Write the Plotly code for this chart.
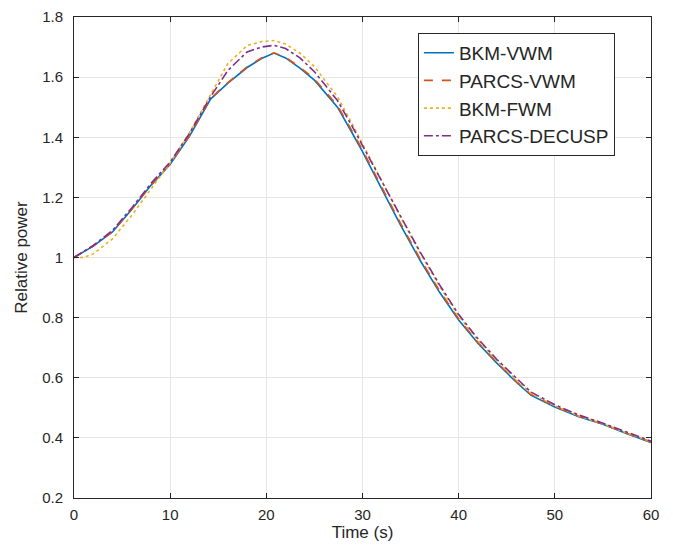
import plotly.graph_objects as go

# time points (s)
time_s = [0, 1, 2, 4, 6, 8, 10, 12, 14.2, 16, 18, 19.5, 20.8, 22, 23.5, 25, 26.5, 27.4,
          29, 30, 32, 34, 36, 38, 40, 42, 44, 46, 47.5, 50, 52.5, 55, 57.5, 60]

bkm_vwm = [1.000, 1.018, 1.038, 1.085, 1.160, 1.240, 1.310, 1.403, 1.527, 1.580, 1.632, 1.662,
           1.680, 1.664, 1.630, 1.590, 1.535, 1.500, 1.410, 1.352, 1.228, 1.105, 0.990, 0.885,
           0.792, 0.715, 0.648, 0.585, 0.542, 0.503, 0.470, 0.445, 0.414, 0.385]

parcs_vwm = [1.000, 1.018, 1.038, 1.086, 1.161, 1.241, 1.312, 1.405, 1.529, 1.582, 1.634, 1.664,
             1.681, 1.666, 1.633, 1.594, 1.540, 1.505, 1.416, 1.358, 1.234, 1.111, 0.995, 0.890,
             0.796, 0.718, 0.651, 0.588, 0.545, 0.505, 0.472, 0.446, 0.415, 0.386]

bkm_fwm = [1.000, 1.000, 1.012, 1.062, 1.140, 1.228, 1.315, 1.415, 1.542, 1.645, 1.705, 1.718,
           1.722, 1.710, 1.680, 1.635, 1.572, 1.535, 1.440, 1.378, 1.255, 1.132, 1.015, 0.905,
           0.806, 0.724, 0.655, 0.592, 0.549, 0.507, 0.473, 0.447, 0.416, 0.387]

parcs_decusp = [1.000, 1.019, 1.040, 1.090, 1.165, 1.246, 1.318, 1.412, 1.535, 1.622, 1.684, 1.700,
                1.706, 1.695, 1.664, 1.618, 1.560, 1.522, 1.432, 1.372, 1.255, 1.135, 1.018, 0.910,
                0.810, 0.730, 0.660, 0.597, 0.553, 0.510, 0.476, 0.449, 0.418, 0.389]

series = [
    ("BKM-VWM", bkm_vwm, "#0072BD", "solid"),
    ("PARCS-VWM", parcs_vwm, "#D95319", "dash"),
    ("BKM-FWM", bkm_fwm, "#EDB120", "dot"),
    ("PARCS-DECUSP", parcs_decusp, "#7E2F8E", "dashdot"),
]

fig = go.Figure()
for name, vals, color, dash in series:
    fig.add_trace(go.Scatter(x=time_s, y=vals, mode="lines", name=name,
                             line=dict(color=color, width=1.6, dash=dash)))

axis_style = dict(showline=True, linecolor="#262626", linewidth=1, mirror="ticks",
                  ticks="inside", ticklen=5, tickcolor="#262626",
                  showgrid=True, gridcolor="#e6e6e6", zeroline=False, automargin=False,
                  tickfont=dict(size=15, color="#262626"))

fig.update_layout(
    width=673, height=550,
    margin=dict(l=74, r=22, t=17, b=52),
    paper_bgcolor="white", plot_bgcolor="white",
    font=dict(family="Liberation Sans, Arial, sans-serif", color="#262626"),
    legend=dict(x=0.596, y=0.967, xanchor="left", yanchor="top",
                bgcolor="white", bordercolor="#262626", borderwidth=1,
                font=dict(size=19, color="#262626"), tracegroupgap=0),
)
fig.update_xaxes(range=[0, 60], dtick=10, ticklabelstandoff=3,
                 title=dict(text="Time (s)", font=dict(size=17), standoff=4), **axis_style)
fig.update_yaxes(range=[0.2, 1.8], dtick=0.2, tickformat="~g", ticklabelstandoff=7,
                 title=dict(text="Relative power", font=dict(size=17), standoff=10), **axis_style)

# drop the default page margin so the figure sits at the window's corner
fig.write_html("out.html", config={"displayModeBar": False},
               post_script="document.body.style.margin='0';")
